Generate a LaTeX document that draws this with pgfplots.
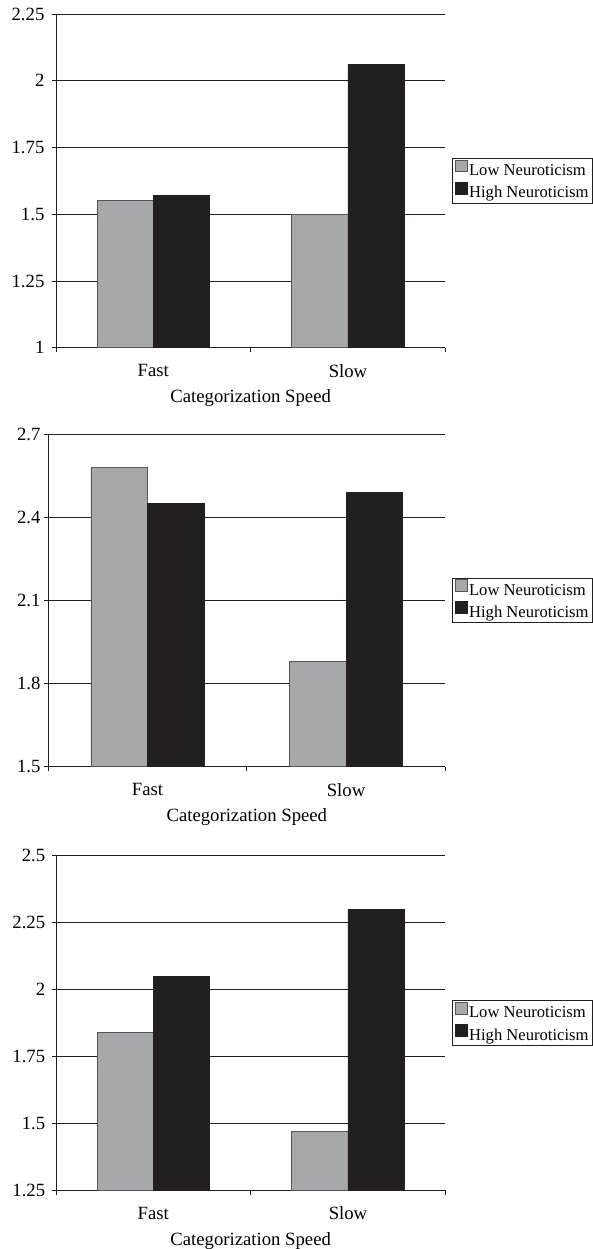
\documentclass[border=0pt]{standalone}
\usepackage{fontspec}
\setmainfont{Liberation Serif}
\usepackage{pgfplots}
\pgfplotsset{compat=1.18}
\definecolor{lowgray}{RGB}{167,168,172}
\definecolor{ink}{RGB}{35,31,32}
\definecolor{edge}{RGB}{85,85,88}

% one px of the reference = 1pt here
\pgfplotsset{
  panel/.style={
    scale only axis,
    anchor=south west,
    axis x line*=bottom, axis y line*=left,
    axis line style={ink, line width=0.9pt},
    xmin=-0.5, xmax=1.5,
    xtick={-0.5,0.5,1.5}, xticklabels={,,},
    extra x ticks={0,1}, extra x tick labels={Fast,Slow},
    extra x tick style={major tick length=0pt, grid=none},
    xticklabel style={yshift=-13pt},
    tick align=outside, major tick length=4.3pt,
    tick style={ink, line width=0.9pt},
    ymajorgrids, grid style={ink, line width=0.9pt},
    ybar=0pt, bar width=0.288,
    font=\fontsize{18.7}{22}\selectfont,
    tick label style={font=\fontsize{18.7}{22}\selectfont,
      /pgf/number format/assume math mode=true},
    xlabel={Categorization Speed},
    xlabel style={at={(axis description cs:0.5,0)}, anchor=north, yshift=-38.5pt},
    legend style={at={(axis description cs:1,0.5)}, anchor=west, xshift=7pt,
      draw=ink, line width=0.8pt, font=\fontsize{16.6}{18}\selectfont,
      inner xsep=2.4pt, inner ysep=1.2pt, row sep=1.8pt,
      nodes={inner sep=1pt, text height=11pt, text depth=3.2pt}},
    legend cell align=left,
  },
  sq/.style={legend image code/.code={\draw[##1] (0.5pt,0pt) rectangle (12.6pt,11.8pt);}},
  low/.style={fill=lowgray, draw=edge, line width=0.9pt, sq},
  high/.style={fill=ink, draw=ink, line width=0.9pt, sq},
}

\begin{document}
\begin{tikzpicture}
\path[use as bounding box] (0,0) rectangle (592pt,-1249pt);

% panel 1
\begin{axis}[panel, at={(56pt,-347.7pt)}, width=389.3pt, height=333.7pt,
  ymin=1, ymax=2.25, ytick={1,1.25,1.5,1.75,2,2.25},
  yticklabel style={xshift=-3.8pt}]
\addplot[low] coordinates {(0,1.55) (1,1.50)};
\addplot[high] coordinates {(0,1.57) (1,2.06)};
\addlegendentry{Low Neuroticism}
\addlegendentry{High Neuroticism}
\end{axis}

% panel 2
\begin{axis}[panel, at={(48.3pt,-766.7pt)}, width=397pt, height=332.7pt,
  bar width=0.285,
  ymin=1.5, ymax=2.7, ytick={1.5,1.8,2.1,2.4,2.7},
  yticklabel style={xshift=0pt}]
\addplot[low] coordinates {(0,2.58) (1,1.88)};
\addplot[high] coordinates {(0,2.45) (1,2.49)};
\addlegendentry{Low Neuroticism}
\addlegendentry{High Neuroticism}
\end{axis}

% panel 3
\begin{axis}[panel, at={(56pt,-1190.3pt)}, width=389.3pt, height=334.6pt,
  ymin=1.25, ymax=2.5, ytick={1.25,1.5,1.75,2,2.25,2.5},
  yticklabel style={xshift=-3pt}]
\addplot[low] coordinates {(0,1.84) (1,1.47)};
\addplot[high] coordinates {(0,2.05) (1,2.30)};
\addlegendentry{Low Neuroticism}
\addlegendentry{High Neuroticism}
\end{axis}
\end{tikzpicture}
\end{document}
